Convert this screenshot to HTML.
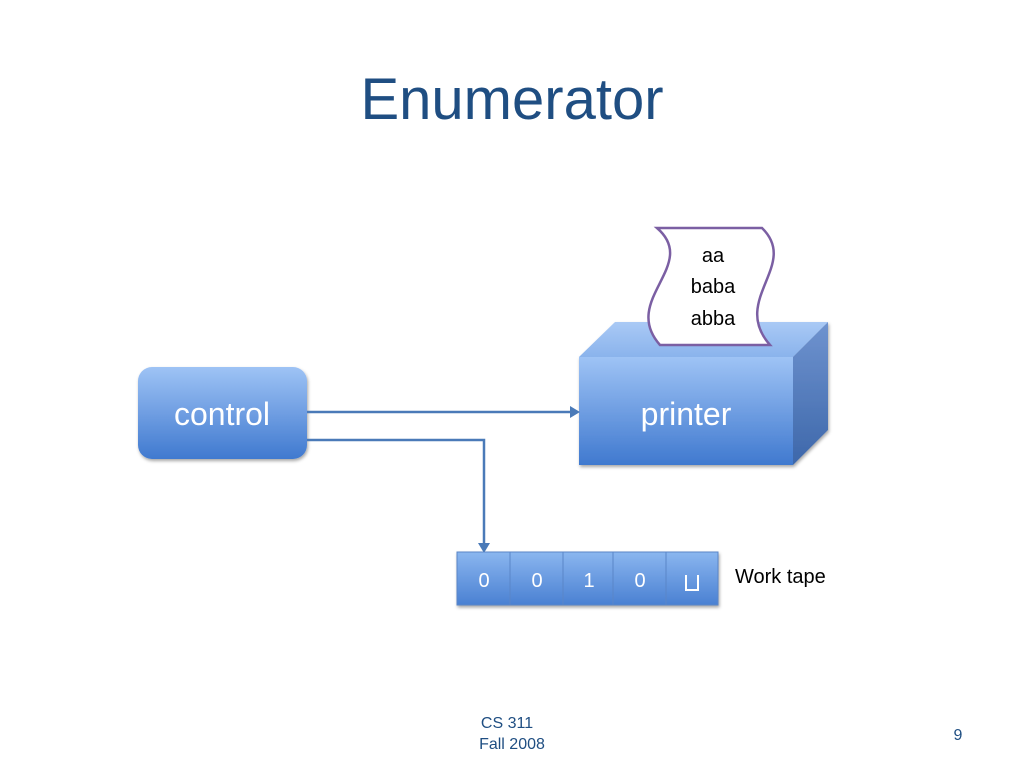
<!DOCTYPE html>
<html><head><meta charset="utf-8"><style>
body{margin:0;background:#fff;}
svg{display:block}
</style></head><body>
<svg width="1024" height="768" viewBox="0 0 1024 768" xmlns="http://www.w3.org/2000/svg" font-family="Liberation Sans, sans-serif">
<defs>
<linearGradient id="g" x1="0" y1="0" x2="0" y2="1">
<stop offset="0" stop-color="#9ec3f5"/><stop offset="1" stop-color="#4079cf"/></linearGradient>
<linearGradient id="gt" x1="0" y1="0" x2="0" y2="1">
<stop offset="0" stop-color="#a9c9f5"/><stop offset="1" stop-color="#8ab3ec"/></linearGradient>
<linearGradient id="gr" x1="0" y1="0" x2="0" y2="1">
<stop offset="0" stop-color="#6f93cf"/><stop offset="1" stop-color="#3d67aa"/></linearGradient>
<linearGradient id="gc" x1="0" y1="0" x2="0" y2="1">
<stop offset="0" stop-color="#8ab6ef"/><stop offset="1" stop-color="#4a80d2"/></linearGradient>
<filter id="s" x="-10%" y="-10%" width="130%" height="130%"><feDropShadow dx="1" dy="2" stdDeviation="1.5" flood-color="#000" flood-opacity="0.35"/></filter>
</defs>
<text x="512" y="119" text-anchor="middle" font-size="58" fill="#1f4e82">Enumerator</text>

<!-- control -->
<rect x="138" y="367" width="169" height="92" rx="14" fill="url(#g)" filter="url(#s)"/>
<text x="222" y="425" text-anchor="middle" font-size="32" fill="#fff">control</text>

<!-- printer -->
<g filter="url(#s)">
<polygon points="579,357 615,322 828,322 793,357" fill="url(#gt)"/>
<polygon points="793,357 828,322 828,430 793,465" fill="url(#gr)"/>
<rect x="579" y="357" width="214" height="108" fill="url(#g)"/>
</g>
<text x="686" y="425" text-anchor="middle" font-size="32" fill="#fff">printer</text>

<!-- paper -->
<path d="M657,228 L762,228 C800,265 730,300 770,345 L660,345 C620,300 700,265 657,228 Z" fill="#fff" stroke="#7b5fa3" stroke-width="2.5"/>
<g font-size="20" fill="#000" text-anchor="middle">
<text x="713" y="262">aa</text>
<text x="713" y="293">baba</text>
<text x="713" y="325">abba</text>
</g>

<!-- connectors -->
<g stroke="#4a7ab8" stroke-width="2.5" fill="none">
<line x1="307" y1="412" x2="572" y2="412"/>
<polyline points="307,440 484,440 484,545"/>
</g>
<polygon points="570,406 580,412 570,418" fill="#4a7ab8"/>
<polygon points="478,543 484,553 490,543" fill="#4a7ab8"/>

<!-- tape -->
<g filter="url(#s)">
<rect x="457" y="552" width="53" height="53" fill="url(#gc)" stroke="#5a86c8" stroke-width="1"/>
<rect x="510" y="552" width="53" height="53" fill="url(#gc)" stroke="#5a86c8" stroke-width="1"/>
<rect x="563" y="552" width="50" height="53" fill="url(#gc)" stroke="#5a86c8" stroke-width="1"/>
<rect x="613" y="552" width="53" height="53" fill="url(#gc)" stroke="#5a86c8" stroke-width="1"/>
<rect x="666" y="552" width="52" height="53" fill="url(#gc)" stroke="#5a86c8" stroke-width="1"/>
</g>
<g font-size="20" fill="#fff" text-anchor="middle">
<text x="484" y="587">0</text>
<text x="537" y="587">0</text>
<text x="589" y="587">1</text>
<text x="640" y="587">0</text>
</g>
<path d="M686,575 L686,590 L698,590 L698,575" stroke="#fff" stroke-width="2" fill="none"/>
<text x="735" y="583" font-size="20" fill="#000">Work tape</text>

<g font-size="16" fill="#1f4e82" text-anchor="middle">
<text x="507" y="728">CS 311</text>
<text x="512" y="749">Fall 2008</text>
<text x="958" y="740">9</text>
</g>
</svg>
</body></html>
